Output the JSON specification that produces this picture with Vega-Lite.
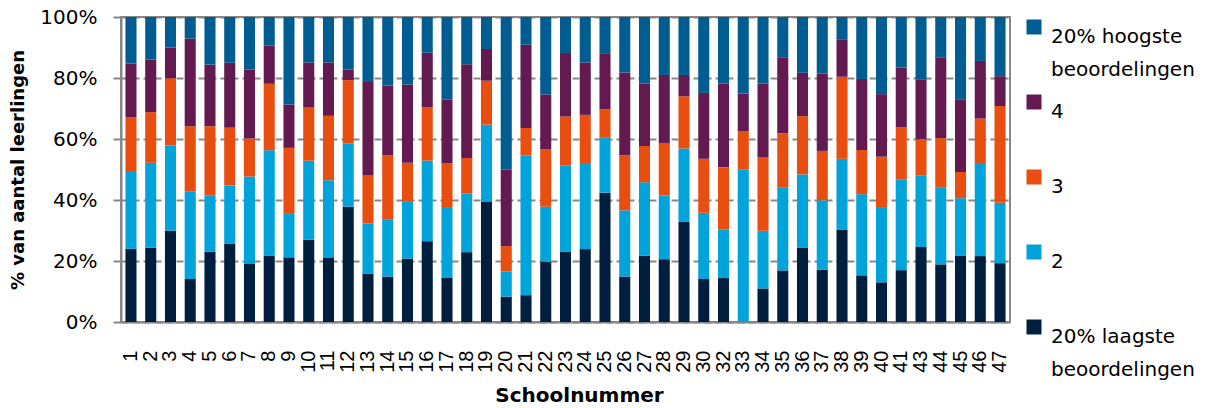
{
  "$schema": "https://vega.github.io/schema/vega-lite/v6.json",
  "autosize": {"type": "none"},
  "padding": {"left": 121, "top": 17, "right": 201, "bottom": 86},
  "width": 889,
  "height": 305,
  "background": "#ffffff",
  "data": {"values": [
    {"school": 1, "r1": 24.0, "r2": 25.5, "r3": 17.7, "r4": 17.5, "r5": 15.3},
    {"school": 2, "r1": 24.4, "r2": 27.8, "r3": 16.6, "r4": 17.2, "r5": 14.0},
    {"school": 3, "r1": 29.9, "r2": 28.0, "r3": 22.0, "r4": 10.1, "r5": 10.0},
    {"school": 4, "r1": 14.1, "r2": 28.8, "r3": 21.3, "r4": 28.7, "r5": 7.1},
    {"school": 5, "r1": 23.1, "r2": 18.3, "r3": 22.8, "r4": 20.2, "r5": 15.6},
    {"school": 6, "r1": 25.6, "r2": 19.2, "r3": 18.9, "r4": 21.3, "r5": 15.0},
    {"school": 7, "r1": 19.0, "r2": 28.7, "r3": 12.5, "r4": 22.6, "r5": 17.2},
    {"school": 8, "r1": 21.8, "r2": 34.5, "r3": 21.8, "r4": 12.5, "r5": 9.4},
    {"school": 9, "r1": 21.2, "r2": 14.5, "r3": 21.4, "r4": 14.2, "r5": 28.7},
    {"school": 10, "r1": 27.0, "r2": 25.9, "r3": 17.4, "r4": 14.8, "r5": 14.9},
    {"school": 11, "r1": 21.0, "r2": 25.5, "r3": 21.1, "r4": 17.5, "r5": 14.9},
    {"school": 12, "r1": 37.8, "r2": 20.8, "r3": 20.7, "r4": 3.5, "r5": 17.2},
    {"school": 13, "r1": 15.9, "r2": 16.4, "r3": 15.9, "r4": 30.5, "r5": 21.3},
    {"school": 14, "r1": 14.9, "r2": 18.6, "r3": 21.2, "r4": 22.8, "r5": 22.5},
    {"school": 15, "r1": 20.8, "r2": 18.8, "r3": 12.6, "r4": 25.7, "r5": 22.1},
    {"school": 16, "r1": 26.5, "r2": 26.4, "r3": 17.5, "r4": 17.9, "r5": 11.7},
    {"school": 17, "r1": 14.6, "r2": 22.8, "r3": 14.6, "r4": 21.0, "r5": 27.0},
    {"school": 18, "r1": 22.9, "r2": 19.3, "r3": 11.6, "r4": 30.7, "r5": 15.5},
    {"school": 19, "r1": 39.5, "r2": 25.2, "r3": 14.4, "r4": 10.4, "r5": 10.5},
    {"school": 20, "r1": 8.3, "r2": 8.3, "r3": 8.3, "r4": 25.0, "r5": 50.1},
    {"school": 21, "r1": 8.8, "r2": 45.8, "r3": 9.0, "r4": 27.3, "r5": 9.1},
    {"school": 22, "r1": 19.8, "r2": 18.0, "r3": 18.9, "r4": 17.9, "r5": 25.4},
    {"school": 23, "r1": 23.1, "r2": 28.3, "r3": 16.0, "r4": 20.8, "r5": 11.8},
    {"school": 24, "r1": 23.9, "r2": 28.2, "r3": 15.8, "r4": 17.2, "r5": 14.9},
    {"school": 25, "r1": 42.4, "r2": 18.2, "r3": 9.2, "r4": 18.1, "r5": 12.1},
    {"school": 26, "r1": 14.9, "r2": 21.7, "r3": 18.1, "r4": 27.1, "r5": 18.2},
    {"school": 27, "r1": 21.7, "r2": 24.1, "r3": 11.9, "r4": 20.5, "r5": 21.8},
    {"school": 28, "r1": 20.6, "r2": 20.9, "r3": 17.2, "r4": 22.3, "r5": 19.0},
    {"school": 29, "r1": 32.8, "r2": 24.1, "r3": 17.1, "r4": 7.0, "r5": 19.0},
    {"school": 30, "r1": 14.1, "r2": 21.7, "r3": 17.7, "r4": 21.6, "r5": 24.9},
    {"school": 32, "r1": 14.4, "r2": 16.0, "r3": 20.3, "r4": 27.5, "r5": 21.8},
    {"school": 33, "r1": 0.0, "r2": 50.1, "r3": 12.5, "r4": 12.3, "r5": 25.1},
    {"school": 34, "r1": 11.0, "r2": 18.9, "r3": 24.2, "r4": 24.1, "r5": 21.8},
    {"school": 35, "r1": 16.9, "r2": 27.3, "r3": 17.7, "r4": 24.9, "r5": 13.2},
    {"school": 36, "r1": 24.4, "r2": 24.0, "r3": 19.1, "r4": 14.2, "r5": 18.3},
    {"school": 37, "r1": 17.2, "r2": 22.7, "r3": 16.2, "r4": 25.4, "r5": 18.5},
    {"school": 38, "r1": 30.3, "r2": 23.2, "r3": 26.9, "r4": 12.3, "r5": 7.3},
    {"school": 39, "r1": 15.3, "r2": 26.6, "r3": 14.5, "r4": 23.3, "r5": 20.3},
    {"school": 40, "r1": 13.0, "r2": 24.4, "r3": 16.8, "r4": 20.5, "r5": 25.3},
    {"school": 41, "r1": 17.0, "r2": 29.7, "r3": 17.2, "r4": 19.5, "r5": 16.6},
    {"school": 43, "r1": 24.6, "r2": 23.5, "r3": 11.8, "r4": 19.5, "r5": 20.6},
    {"school": 44, "r1": 18.9, "r2": 25.3, "r3": 16.1, "r4": 26.5, "r5": 13.2},
    {"school": 45, "r1": 21.8, "r2": 18.8, "r3": 8.6, "r4": 23.8, "r5": 27.0},
    {"school": 46, "r1": 21.6, "r2": 30.5, "r3": 14.6, "r4": 18.9, "r5": 14.4},
    {"school": 47, "r1": 19.3, "r2": 19.8, "r3": 31.7, "r4": 9.8, "r5": 19.4}
  ]},
  "transform": [
    {"fold": ["r1", "r2", "r3", "r4", "r5"], "as": ["cat", "pct"]}
  ],
  "mark": {"type": "bar"},
  "encoding": {
    "x": {
      "field": "school",
      "type": "ordinal",
      "scale": {"paddingInner": 0.44, "paddingOuter": 0.225},
      "axis": {
        "title": "Schoolnummer",
        "labelAngle": -90,
        "labelFont": "Liberation Sans",
        "labelFontSize": 20,
        "ticks": false,
        "tickSize": 0,
        "labelPadding": 28,
        "titlePadding": 13,
        "titleX": 458
      }
    },
    "y": {
      "field": "pct",
      "type": "quantitative",
      "stack": "normalize",
      "scale": {"domain": [0, 1], "nice": false},
      "axis": {
        "title": "% van aantal leerlingen",
        "format": ".0%",
        "values": [0, 0.2, 0.4, 0.6, 0.8, 1],
        "grid": true,
        "gridDash": [7, 4],
        "gridColor": "#878787",
        "gridWidth": 2,
        "tickSize": 8,
        "tickColor": "#878787",
        "tickWidth": 2,
        "labelPadding": 16,
        "titlePadding": 12,
        "titleFontSize": 18
      }
    },
    "color": {
      "field": "cat",
      "type": "nominal",
      "scale": {
        "domain": ["r5", "r4", "r3", "r2", "r1"],
        "range": ["#005D91", "#631A51", "#E84E10", "#00A3DA", "#001E3E"]
      },
      "legend": {
        "title": null,
        "orient": "right",
        "offset": 14,
        "padding": 0,
        "symbolType": "square",
        "symbolSize": 225,
        "symbolStrokeWidth": 0,
        "labelOffset": 7,
        "labelBaseline": "top",
        "labelLimit": 300,
        "rowPadding": 12,
        "labelExpr": "datum.value == 'r5' ? ['20% hoogste', 'beoordelingen'] : datum.value == 'r4' ? ['4', ' '] : datum.value == 'r3' ? ['3', ' '] : datum.value == 'r2' ? ['2', ' '] : ['20% laagste', 'beoordelingen']",
        "encode": {"labels": {"update": {"lineHeight": {"value": 33}}}}
      }
    },
    "order": {"field": "cat", "sort": "ascending"}
  },
  "config": {
    "font": "DejaVu Sans",
    "view": {"stroke": "#878787", "strokeWidth": 2},
    "axis": {
      "labelFont": "DejaVu Sans",
      "labelFontSize": 20,
      "labelColor": "#000000",
      "titleFont": "DejaVu Sans",
      "titleFontSize": 20,
      "titleFontWeight": "bold",
      "titleColor": "#000000",
      "domainColor": "#878787",
      "domainWidth": 2
    },
    "axisX": {"grid": false},
    "legend": {
      "labelFont": "DejaVu Sans",
      "labelFontSize": 20,
      "labelColor": "#000000"
    }
  }
}
